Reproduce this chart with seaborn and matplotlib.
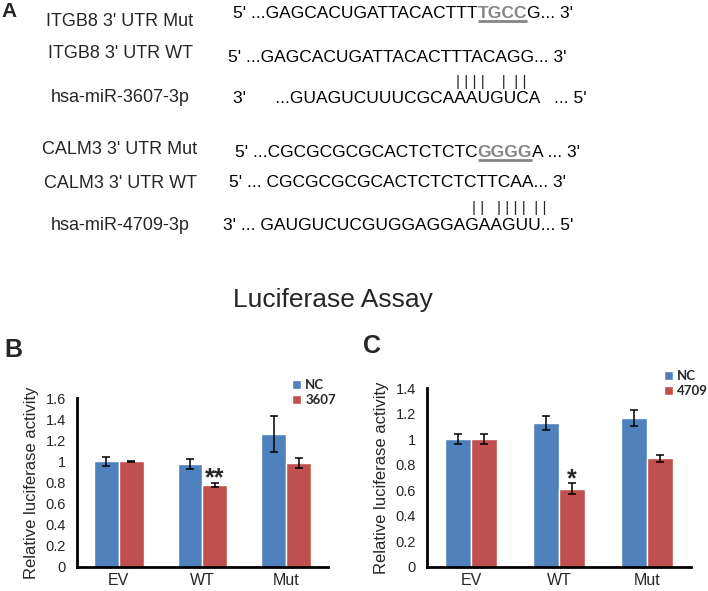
import matplotlib
matplotlib.use('Agg')
import matplotlib.pyplot as plt
from matplotlib.ticker import MultipleLocator, FuncFormatter
import seaborn as sns
import pandas as pd

# Datos de la figura
categories = ['EV', 'WT', 'Mut']

b_nc = [1.0, 0.975, 1.26]
b_nc_err = [0.04, 0.045, 0.17]
b_mir = [1.0, 0.78, 0.985]
b_mir_err = [0.005, 0.018, 0.045]

c_nc = [1.0, 1.125, 1.165]
c_nc_err = [0.04, 0.055, 0.062]
c_mir = [1.0, 0.612, 0.85]
c_mir_err = [0.04, 0.044, 0.028]

# Alineamientos del panel A: (etiqueta, trozos de secuencia (texto, resaltado))
rows_a = [
    ('ITGB8 3\' UTR Mut', [("5' ...GAGCACUGATTACACTTT", False), ('TGCC', True), ("G... 3'", False)]),
    ('ITGB8 3\' UTR WT', [("5' ...GAGCACUGATTACACTTTACAGG... 3'", False)]),
    ('hsa-miR-3607-3p', [("3'      ...GUAGUCUUUCGCAAAUGUCA   ... 5'", False)]),
    ('CALM3 3\' UTR Mut', [("5' ...CGCGCGCGCACTCTCTC", False), ('GGGG', True), ("A ... 3'", False)]),
    ('CALM3 3\' UTR WT', [("5' ... CGCGCGCGCACTCTCTCTTCAA... 3'", False)]),
    ('hsa-miR-4709-3p', [("3' ... GAUGUCUCGUGGAGGAGAAGUU... 5'", False)]),
]
pairs_a = ['| | | |    |  | |', '| |   | | | |  | |']

BLUE = '#4F81BD'
RED = '#C0504D'
GRAY = '#858585'
W, H = 708, 591

sns.set_style('white')
plt.rcParams['font.family'] = ['Liberation Sans', 'DejaVu Sans']

fig = plt.figure(figsize=(W / 100, H / 100), dpi=100)

# Panel A en coordenadas de pixel
ax_a = fig.add_axes([0, 0, 1, 1])
ax_a.set_xlim(0, W)
ax_a.set_ylim(H, 0)
ax_a.axis('off')

ax_a.text(1, 17, 'A', fontsize=15, fontweight='bold', va='baseline')

label_y = [26, 58, 102, 154, 188, 230]
seq_x = [233, 228, 233, 235, 229, 223]
seq_y = [18, 62, 103, 157, 187, 230]
underlines = []
for (label, parts), ly, sx, sy in zip(rows_a, label_y, seq_x, seq_y):
    ax_a.text(120, ly, label, fontsize=13, ha='center', va='baseline')
    t = None
    for s, hl in parts:
        color = GRAY if hl else 'black'
        weight = 'bold' if hl else 'normal'
        if t is None:
            t = ax_a.text(sx, sy, s, fontsize=12.5, va='baseline', color=color,
                          fontweight=weight)
        else:
            t = ax_a.annotate(s, xy=(1, 0), xycoords=t, fontsize=12.5,
                              va='bottom', ha='left', color=color, fontweight=weight)
        if hl:
            underlines.append((t, sy))

ax_a.text(456, 86, pairs_a[0], fontsize=11, va='baseline')
ax_a.text(472, 212, pairs_a[1], fontsize=11, va='baseline')

fig.text(333 / W, 1 - 307 / H, 'Luciferase Assay', fontsize=19, ha='center', va='baseline')
fig.text(4 / W, 1 - 357 / H, 'B', fontsize=18, fontweight='bold', va='baseline')
fig.text(363 / W, 1 - 353 / H, 'C', fontsize=18, fontweight='bold', va='baseline')


def draw_panel(ax, nc, nc_err, mir, mir_err, mir_name, ymax, star, leg_xy):
    df = pd.DataFrame({
        'group': categories * 2,
        'treat': ['NC'] * len(categories) + [mir_name] * len(categories),
        'value': nc + mir,
    })
    sns.barplot(data=df, x='group', y='value', hue='treat', palette=[BLUE, RED],
                width=0.59, gap=0, errorbar=None, saturation=1, ax=ax)
    for cont, errs in zip(ax.containers, [nc_err, mir_err]):
        xs = [b.get_x() + b.get_width() / 2 for b in cont]
        ys = [b.get_height() for b in cont]
        ax.errorbar(xs, ys, yerr=errs, fmt='none', ecolor='black',
                    elinewidth=1.1, capsize=3, capthick=1.1)
    # asterisco sobre la barra WT del miRNA
    b = ax.containers[1][1]
    ax.annotate(star, xy=(b.get_x() + b.get_width() / 2, b.get_height() + mir_err[1]),
                xytext=(0, -2), textcoords='offset points', ha='center', va='baseline',
                fontsize=18, fontweight='bold')

    ax.set_xlim(-0.5, 2.5)
    ax.set_ylim(0, ymax)
    ax.yaxis.set_major_locator(MultipleLocator(0.2))
    ax.yaxis.set_major_formatter(FuncFormatter(lambda v, p: '%g' % round(v, 1)))
    ax.set_xticks(range(len(categories)), categories)
    ax.set_xticks([0.5, 1.5, 2.5], minor=True)
    ax.tick_params(axis='x', which='major', length=0, pad=4, labelsize=11.5)
    ax.tick_params(axis='x', which='minor', length=3, width=2, direction='in')
    ax.tick_params(axis='y', length=3, width=2, direction='out', pad=5, labelsize=10.5)
    ax.set_xlabel('')
    ax.set_ylabel('Relative luciferase activity', fontsize=12, labelpad=5)
    sns.despine(ax=ax)
    for sp in ['left', 'bottom']:
        ax.spines[sp].set_linewidth(2)
        ax.spines[sp].set_color('black')

    ax.legend(loc='upper left', bbox_to_anchor=(leg_xy[0] / W, 1 - leg_xy[1] / H),
              bbox_transform=fig.transFigure, frameon=False, borderpad=0,
              borderaxespad=0, handlelength=0.7, handleheight=0.7,
              handletextpad=0.3, labelspacing=0.25,
              prop={'family': 'Lato', 'weight': 'bold', 'size': 9.5})


ax_b = fig.add_axes([77 / W, 1 - 567 / H, 251 / W, 169 / H])
draw_panel(ax_b, b_nc, b_nc_err, b_mir, b_mir_err, '3607', 1.6, '**', (292, 379))

ax_c = fig.add_axes([427 / W, 1 - 567 / H, 264 / W, 179 / H])
draw_panel(ax_c, c_nc, c_nc_err, c_mir, c_mir_err, '4709', 1.4, '*', (664, 370))

# subrayado de las bases mutadas
fig.canvas.draw()
inv = ax_a.transData.inverted()
for t, sy in underlines:
    bb = t.get_window_extent()
    x0 = inv.transform((bb.x0, bb.y0))[0]
    x1 = inv.transform((bb.x1, bb.y0))[0]
    ax_a.plot([x0, x1], [sy + 3, sy + 3], color=GRAY, lw=2, solid_capstyle='butt')

fig.savefig('out.png', dpi=100)
